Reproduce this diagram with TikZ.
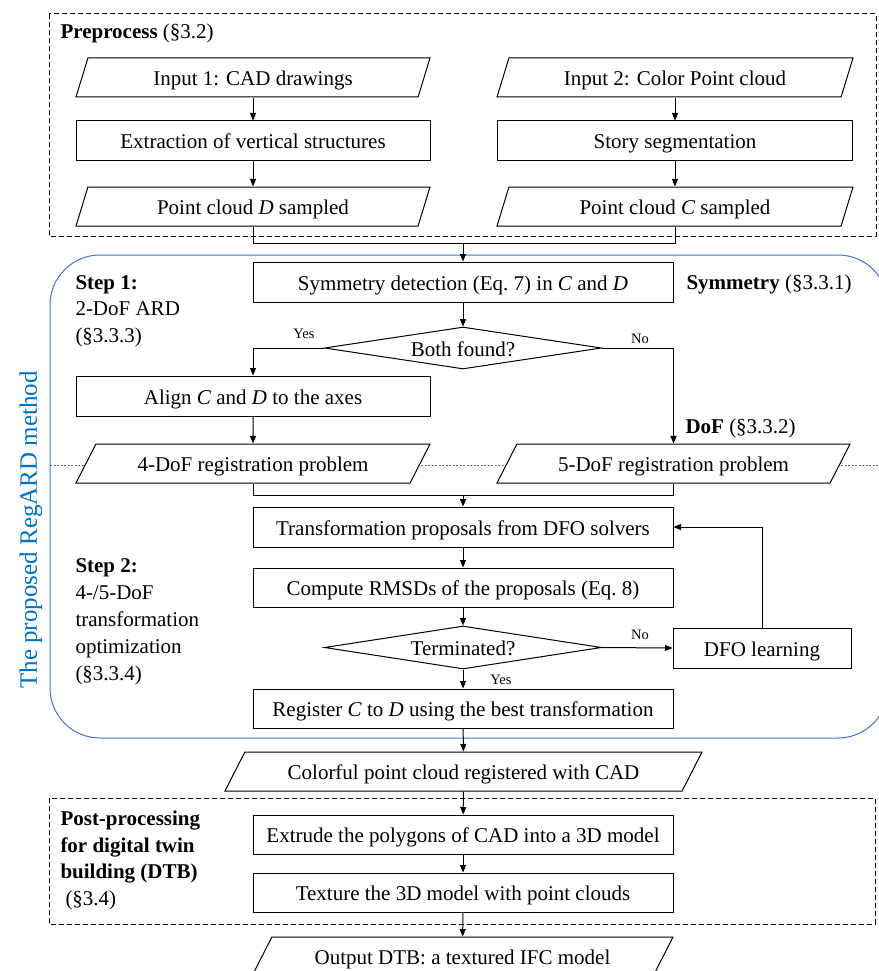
\documentclass[tikz,border=0pt]{standalone}
\usepackage{fontspec}
\setmainfont{Liberation Serif}
\usetikzlibrary{shapes.geometric,arrows.meta,calc}
\definecolor{boxblue}{RGB}{68,114,196}
\definecolor{textblue}{RGB}{0,112,192}
\begin{document}
\begin{tikzpicture}[x=1pt,y=-1pt, line width=1pt, font=\fontsize{21}{25}\selectfont,
  box/.style={draw, fill=white, minimum height=39pt, inner sep=1pt, text height=16pt, text depth=0pt},
  paraA/.style={draw, fill=white, trapezium, trapezium stretches body, trapezium left angle=73, trapezium right angle=107, minimum height=39pt, inner xsep=1pt, inner ysep=11.5pt, text height=16pt, text depth=0pt},
  paraB/.style={draw, fill=white, trapezium, trapezium stretches body, trapezium left angle=63, trapezium right angle=117, minimum height=39pt, inner xsep=1pt, inner ysep=11.5pt, text height=16pt, text depth=0pt},
  dia/.style={draw, fill=white, diamond, aspect=6.6, inner sep=0pt, minimum width=277pt, minimum height=42pt, text height=16pt, text depth=0pt},
  arr/.style={-{Triangle[length=7.5pt,width=6pt]}},
  lbl/.style={font=\fontsize{14.5}{17}\selectfont, inner sep=0pt, anchor=base},
  side/.style={anchor=base west, inner sep=0pt},
  dashbox/.style={draw, dash pattern=on 5pt off 3pt, line width=1pt}]
\useasboundingbox (0,0) rectangle (878,971);

% group frames
\draw[dashbox] (49,14) rectangle (876,236);
\draw[boxblue, line width=1pt, rounded corners=50pt] (50,255) rectangle (888,738);
\draw[boxblue, dash pattern=on 2pt off 1.5pt, line width=0.9pt] (50,465) -- (878,465);
\draw[dashbox] (49,798) rectangle (875,924);

\node[rotate=90, text=textblue, font=\fontsize{25}{30}\selectfont, inner sep=0pt] (method) at (31,530) {The proposed RegARD method};

% side labels
\node[side] (prelbl) at (60,39) {\textbf{Preprocess} (§3.2)};
\node[side] (s1a) at (75,289) {\textbf{Step 1:}};
\node[side] (s1b) at (75,315.5) {2-DoF ARD};
\node[side] (s1c) at (75,342) {(§3.3.3)};
\node[side] (symlbl) at (686,289) {\textbf{Symmetry} (§3.3.1)};
\node[side] (doflbl) at (685,433) {\textbf{DoF} (§3.3.2)};
\node[side] (s2a) at (75,572) {\textbf{Step 2:}};
\node[side] (s2b) at (75,599) {4-/5-DoF};
\node[side] (s2c) at (75,626.5) {transformation};
\node[side] (s2d) at (75,653) {optimization};
\node[side] (s2e) at (75,680) {(§3.3.4)};
\node[side] (p1) at (60,825) {\textbf{Post-processing}};
\node[side] (p2) at (60,852) {\textbf{for digital twin}};
\node[side] (p3) at (60,878.5) {\textbf{building (DTB)}};
\node[side] (p4) at (65,905) {(§3.4)};

% flow nodes
\node[paraA, minimum width=354pt] (in1) at (253,77.5) {Input 1: CAD drawings};
\node[box, minimum width=354pt] (ext) at (253,140.5) {Extraction of vertical structures};
\node[paraA, minimum width=354pt] (pcD) at (253,206.5) {Point cloud \textit{D} sampled};
\node[paraA, minimum width=356pt] (in2) at (675,77.5) {Input 2: Color Point cloud};
\node[box, minimum width=355pt] (seg) at (675,140.5) {Story segmentation};
\node[paraA, minimum width=356pt] (pcC) at (675,206.5) {Point cloud \textit{C} sampled};
\coordinate (m1) at (463,243);
\node[box, minimum width=420pt, minimum height=40pt] (sym) at (463,282) {Symmetry detection (Eq.~7) in \textit{C} and \textit{D}};
\node[dia] (both) at (463,348) {Both found?};
\node[box, minimum width=354pt, minimum height=40pt] (align) at (253,396) {Align \textit{C} and \textit{D} to the axes};
\node[paraB, minimum width=354pt] (dof4) at (253,463.5) {4-DoF registration problem};
\node[paraB, minimum width=353pt] (dof5) at (673.5,463.5) {5-DoF registration problem};
\coordinate (m2) at (463,495);
\node[box, minimum width=420pt, minimum height=40pt] (trans) at (463,527) {Transformation proposals from DFO solvers};
\node[box, minimum width=420pt] (rmsd) at (463,587.5) {Compute RMSDs of the proposals (Eq.~8)};
\node[dia, minimum height=43pt] (term) at (463,647.5) {Terminated?};
\node[box, minimum width=178pt, minimum height=40pt] (dfo) at (762,648) {DFO learning};
\node[box, minimum width=420pt] (reg) at (463,708.5) {Register \textit{C} to \textit{D} using the best transformation};
\node[paraB, minimum width=477pt] (cpc) at (463.5,771.5) {Colorful point cloud registered with CAD};
\node[box, minimum width=420pt] (extr) at (463,834.5) {Extrude the polygons of CAD into a 3D model};
\node[box, minimum width=420pt] (tex) at (463,892.5) {Texture the 3D model with point clouds};
\node[paraB, minimum width=421pt] (out) at (462.5,956.5) {Output DTB: a textured IFC model};

% connectors
\draw[arr] (in1) -- (ext);
\draw[arr] (ext) -- (pcD);
\draw[arr] (in2) -- (seg);
\draw[arr] (seg) -- (pcC);
\draw (pcD.south) |- (m1);
\draw (pcC.south) |- (m1);
\draw[arr] (m1) -- (sym);
\draw[arr] (sym) -- (both);
\draw[arr] (both.west) -| (align.north);
\draw[arr] (both.east) -| (dof5.north);
\draw[arr] (align) -- (dof4);
\draw (dof4.south) |- (m2);
\draw (dof5.south) |- (m2);
\draw[arr] (m2) -- (trans);
\draw[arr] (trans) -- (rmsd);
\draw[arr] (rmsd) -- (term);
\draw[arr] (term.east) -- (dfo.west);
\draw[arr] (dfo.north) |- (trans.east);
\draw[arr] (term.south) -- (reg.north);
\draw[arr] (reg) -- (cpc);
\draw[arr] (cpc) -- (extr);
\draw[arr] (extr) -- (tex);
\draw[arr] (tex) -- (out);

\node[lbl] (yes1) at (304,338) {Yes};
\node[lbl] (no1) at (640,343) {No};
\node[lbl] (no2) at (640,639) {No};
\node[lbl] (yes2) at (501,684) {Yes};
\end{tikzpicture}
\end{document}
